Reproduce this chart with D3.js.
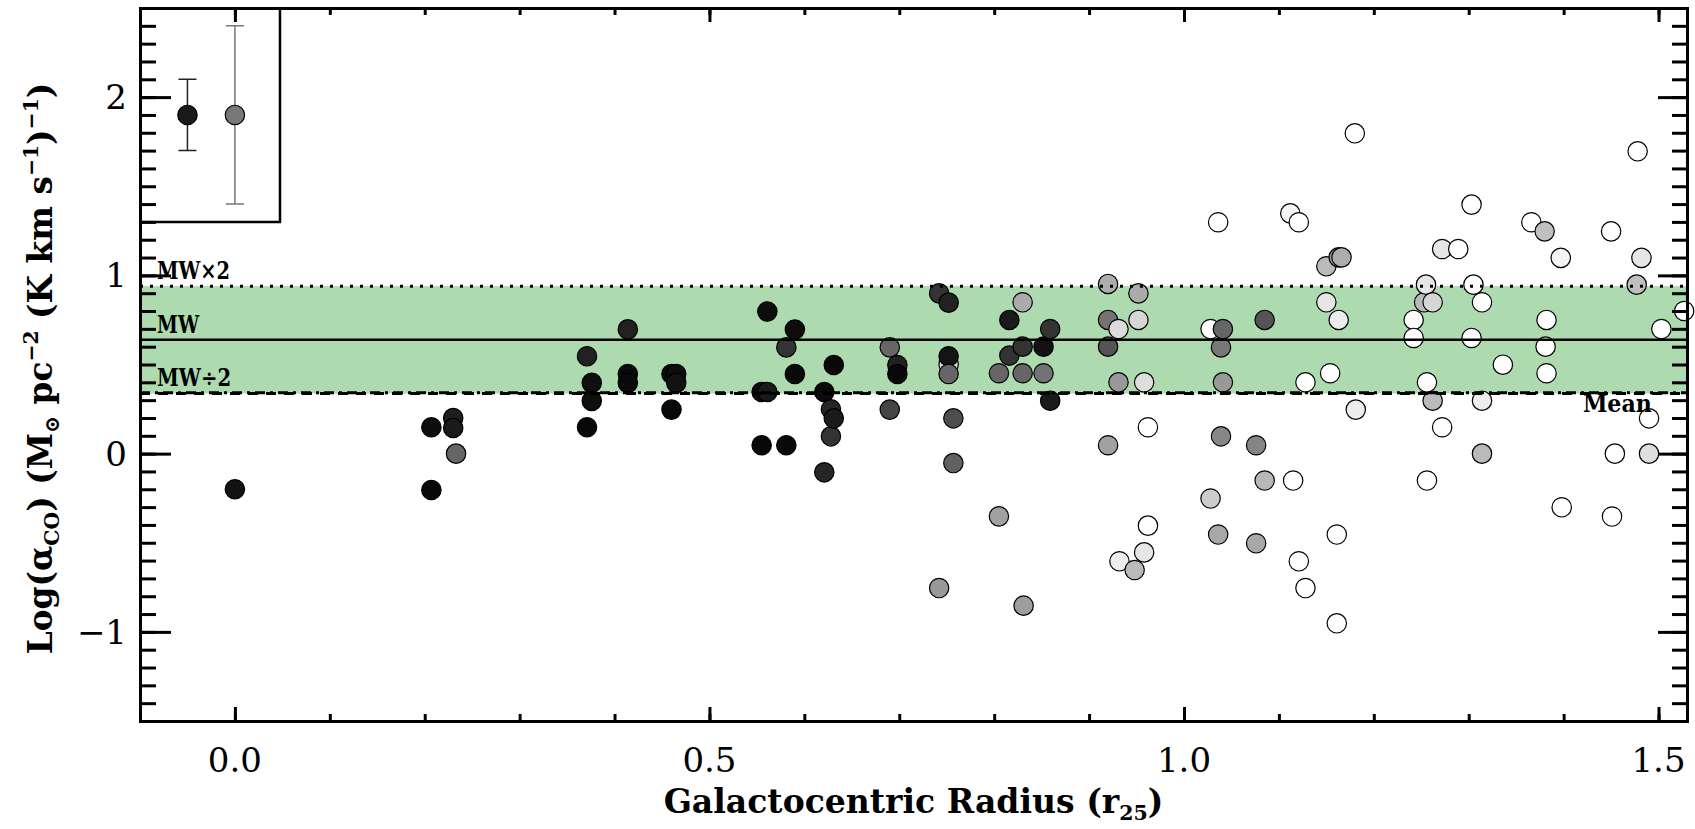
<!DOCTYPE html>
<html>
<head>
<meta charset="utf-8">
<script src="https://cdn.jsdelivr.net/npm/d3@7"></script>
<style>
  body { margin: 0; background: #fff; }
  svg { display: block; }
  .axis path, .axis line { stroke: #000; stroke-width: 3; }
  .axis path { stroke-linecap: square; }
  .tick-label { font-family: 'DejaVu Serif', serif; font-size: 34px; fill: #000; }
  .title { font-family: 'DejaVu Serif', serif; font-weight: bold; fill: #000; }
</style>
</head>
<body>
<div id="chart"></div>
<script>
// galactocentric radius (r25) of each region
const radius = [
  0.000, 0.207, 0.207, 0.230, 0.230, 0.233, 0.371, 0.376, 0.376, 0.371,
  0.414, 0.414, 0.414, 0.460, 0.465, 0.465, 0.460, 0.555, 0.555, 0.561,
  0.561, 0.581, 0.581, 0.590, 0.590, 0.621, 0.621, 0.628, 0.628, 0.631,
  0.631, 0.690, 0.690, 0.698, 0.698, 0.742, 0.742, 0.752, 0.752, 0.752,
  0.752, 0.757, 0.757, 0.805, 0.805, 0.816, 0.816, 0.830, 0.830, 0.830,
  0.831, 0.852, 0.852, 0.859, 0.859, 0.920, 0.920, 0.920, 0.920, 0.931,
  0.931, 0.932, 0.948, 0.952, 0.952, 0.958, 0.958, 0.962, 0.962, 1.028,
  1.028, 1.036, 1.036, 1.039, 1.039, 1.041, 1.041, 1.076, 1.076, 1.085,
  1.085, 1.112, 1.115, 1.121, 1.121, 1.128, 1.128, 1.150, 1.150, 1.154,
  1.161, 1.161, 1.163, 1.166, 1.163, 1.180, 1.181, 1.242, 1.242, 1.253,
  1.255, 1.256, 1.256, 1.262, 1.262, 1.272, 1.272, 1.289, 1.303, 1.303,
  1.305, 1.314, 1.314, 1.314, 1.336, 1.366, 1.380, 1.381, 1.382, 1.382,
  1.397, 1.398, 1.450, 1.451, 1.454, 1.477, 1.478, 1.482, 1.490, 1.490,
  1.503, 1.527
]

// log(alpha_CO)
const logAlpha = [
  -0.200, 0.148, -0.204, 0.200, 0.144, 0.000, 0.546, 0.397, 0.296, 0.148,
  0.697, 0.447, 0.397, 0.447, 0.447, 0.397, 0.247, 0.346, 0.047, 0.797,
  0.346, 0.596, 0.047, 0.696, 0.447, 0.346, -0.105, 0.249, 0.097, 0.497,
  0.198, 0.596, 0.247, 0.497, 0.447, 0.899, -0.754, 0.847, 0.500, 0.546,
  0.447, 0.198, -0.053, 0.451, -0.352, 0.750, 0.550, 0.849, 0.600, 0.451,
  -0.853, 0.600, 0.451, 0.699, 0.297, 0.952, 0.750, 0.600, 0.047, 0.699,
  0.400, -0.604, -0.653, 0.899, 0.750, 0.400, -0.554, 0.148, -0.404, 0.699,
  -0.252, 1.298, -0.454, 0.596, 0.097, 0.699, 0.400, 0.047, -0.503, 0.750,
  -0.151, 1.348, -0.151, 1.298, -0.604, 0.400, -0.754, 1.051, 0.849, 0.451,
  -0.454, -0.952, 1.101, 1.101, 0.750, 1.797, 0.247, 0.750, 0.649, 0.849,
  0.948, 0.400, -0.151, 0.849, 0.297, 1.148, 0.148, 1.148, 1.397, 0.649,
  0.948, 0.849, 0.297, 0.000, 0.499, 1.298, 1.247, 0.600, 0.750, 0.451,
  1.098, -0.301, 1.247, -0.353, 0.000, 0.948, 1.696, 1.098, 0.198, 0.000,
  0.699, 0.800
]

// symbol grey level (0 = black, 1 = white)
const greyLevel = [
  0.07, 0.05, 0.03, 0.12, 0.10, 0.40, 0.13, 0.06, 0.06, 0.03,
  0.13, 0.04, 0.04, 0.04, 0.05, 0.07, 0.03, 0.05, 0.03, 0.05,
  0.10, 0.20, 0.04, 0.05, 0.04, 0.04, 0.15, 0.15, 0.20, 0.03,
  0.10, 0.40, 0.27, 0.13, 0.03, 0.20, 0.60, 0.13, 0.85, 0.08,
  0.40, 0.30, 0.38, 0.40, 0.63, 0.10, 0.20, 0.67, 0.20, 0.40,
  0.62, 0.07, 0.45, 0.20, 0.10, 0.68, 0.45, 0.33, 0.63, 0.86,
  0.60, 0.93, 0.73, 0.67, 0.84, 0.87, 0.90, 1.00, 1.00, 1.00,
  0.80, 1.00, 0.66, 0.47, 0.53, 0.40, 0.60, 0.52, 0.66, 0.33,
  0.72, 0.96, 1.00, 1.00, 1.00, 1.00, 1.00, 0.73, 0.90, 1.00,
  1.00, 1.00, 0.60, 0.68, 0.93, 1.00, 0.93, 1.00, 1.00, 0.73,
  0.90, 1.00, 1.00, 0.84, 0.73, 0.90, 1.00, 1.00, 1.00, 1.00,
  1.00, 1.00, 0.93, 0.73, 1.00, 1.00, 0.75, 1.00, 1.00, 1.00,
  0.96, 1.00, 1.00, 1.00, 1.00, 0.75, 1.00, 0.90, 1.00, 0.87,
  1.00, 1.00
]

// Milky Way reference values
const refNames = ['MW\u00d72', 'MW', 'MW\u00f72']
const refValues = [0.9395, 0.6385, 0.3375]
const meanValue = 0.342

// typical error bars shown in the corner box
const errX = [-0.05, 0.0]
const errY = [1.9, 1.9]
const errSize = [0.2, 0.5]
const errGrey = [0.1, 0.47]

const xTicks = [0, 0.5, 1.0, 1.5]
const xTickLabels = ['0.0', '0.5', '1.0', '1.5']
const yTicks = [-1, 0, 1, 2]
const yTickLabels = ['\u22121', '0', '1', '2']

const W = 1695
const H = 829
const margin = { t: 8, r: 8, b: 108, l: 140 }
const innerWidth = W - margin.l - margin.r
const innerHeight = H - margin.t - margin.b

const scaleX = d3.scaleLinear().domain([-0.1, 1.53]).range([0, innerWidth])
const scaleY = d3.scaleLinear().domain([-1.5, 2.5]).range([innerHeight, 0])
const scaleGrey = d3.scaleLinear().domain([0, 1]).range(['#000', '#fff'])

const svg = d3.select('#chart')
  .append('svg')
  .attr('width', W)
  .attr('height', H)

const plot = svg.append('g')
  .attr('class', 'plot')
  .attr('transform', `translate(${margin.l}, ${margin.t})`)

// green band between MW/2 and MWx2
plot.append('rect')
  .attr('x', 0)
  .attr('width', innerWidth)
  .attr('y', scaleY(refValues[0]))
  .attr('height', scaleY(refValues[2]) - scaleY(refValues[0]))
  .attr('fill', '#addbaf')

// points
const points = radius.map((r, i) => ({ r: r, a: logAlpha[i], g: greyLevel[i] }))

plot.append('g')
  .selectAll('circle')
  .data(points)
  .enter()
  .append('circle')
  .attr('cx', d => scaleX(d.r))
  .attr('cy', d => scaleY(d.a))
  .attr('r', 9.7)
  .attr('fill', d => scaleGrey(d.g))
  .attr('stroke', '#000')
  .attr('stroke-width', 1.2)

// reference lines
const dashes = ['3,7', null, '10,8']
plot.append('g')
  .selectAll('line')
  .data(refValues)
  .enter()
  .append('line')
  .attr('x1', 0)
  .attr('x2', innerWidth)
  .attr('y1', d => scaleY(d))
  .attr('y2', d => scaleY(d))
  .attr('stroke', '#000')
  .attr('stroke-width', (d, i) => i === 1 ? 2.5 : 3)
  .attr('stroke-dasharray', (d, i) => dashes[i])

plot.append('line')
  .attr('x1', 0)
  .attr('x2', innerWidth)
  .attr('y1', scaleY(meanValue))
  .attr('y2', scaleY(meanValue))
  .attr('stroke', '#000')
  .attr('stroke-width', 3)
  .attr('stroke-dasharray', '10,5,3,5')

plot.append('g')
  .selectAll('text')
  .data(refValues)
  .enter()
  .append('text')
  .attr('class', 'title')
  .attr('x', scaleX(-0.082))
  .attr('y', d => scaleY(d) - 7)
  .attr('font-size', 25)
  .attr('textLength', (d, i) => [73, 42, 74][i])
  .attr('lengthAdjust', 'spacingAndGlyphs')
  .text((d, i) => refNames[i])

plot.append('text')
  .attr('class', 'title')
  .attr('x', scaleX(1.493))
  .attr('y', scaleY(meanValue) + 19)
  .attr('text-anchor', 'end')
  .attr('font-size', 25)
  .attr('textLength', 69)
  .attr('lengthAdjust', 'spacingAndGlyphs')
  .text('Mean')

// corner box with typical errors
plot.append('path')
  .attr('d', `M${scaleX(-0.1)},${scaleY(1.3)}H${scaleX(0.0475)}V${scaleY(2.5)}`)
  .attr('fill', 'none')
  .attr('stroke', '#000')
  .attr('stroke-width', 2.5)

const errG = plot.append('g')
errX.forEach((ex, i) => {
  const cx = scaleX(ex)
  const top = scaleY(errY[i] + errSize[i])
  const bot = scaleY(errY[i] - errSize[i])
  const col = i === 0 ? '#222' : '#777'
  errG.append('path')
    .attr('d', `M${cx},${top}V${bot}M${cx - 9},${top}H${cx + 9}M${cx - 9},${bot}H${cx + 9}`)
    .attr('fill', 'none')
    .attr('stroke', col)
    .attr('stroke-width', 1.5)
  errG.append('circle')
    .attr('cx', cx)
    .attr('cy', scaleY(errY[i]))
    .attr('r', 9.7)
    .attr('fill', scaleGrey(errGrey[i]))
    .attr('stroke', '#000')
    .attr('stroke-width', 1.2)
})

// axes: ticks from d3 axes, labels placed with the same scales
const xMinor = d3.range(-1, 16).map(d => d / 10)
const yMinor = d3.range(-15, 26).map(d => d / 10)

function noLabels(g) {
  g.selectAll('text').remove()
}

const axes = [
  [d3.axisBottom(scaleX).tickValues(xMinor).tickSize(-7), `translate(0, ${innerHeight})`],
  [d3.axisBottom(scaleX).tickValues(xTicks).tickSize(-14), `translate(0, ${innerHeight})`],
  [d3.axisTop(scaleX).tickValues(xMinor).tickSize(-7), null],
  [d3.axisTop(scaleX).tickValues(xTicks).tickSize(-14), null],
  [d3.axisLeft(scaleY).tickValues(yMinor).tickSize(-16), null],
  [d3.axisLeft(scaleY).tickValues(yTicks).tickSize(-31), null],
  [d3.axisRight(scaleY).tickValues(yMinor).tickSize(-15), `translate(${innerWidth}, 0)`],
  [d3.axisRight(scaleY).tickValues(yTicks).tickSize(-29), `translate(${innerWidth}, 0)`]
]
axes.forEach(([axis, tr]) => {
  plot.append('g')
    .attr('class', 'axis')
    .attr('transform', tr)
    .call(axis.tickSizeOuter(0))
    .call(noLabels)
})

plot.append('g')
  .selectAll('text')
  .data(xTicks)
  .enter()
  .append('text')
  .attr('class', 'tick-label')
  .attr('x', d => scaleX(d))
  .attr('y', innerHeight + 51)
  .attr('text-anchor', 'middle')
  .text((d, i) => xTickLabels[i])

plot.append('g')
  .selectAll('text')
  .data(yTicks)
  .enter()
  .append('text')
  .attr('class', 'tick-label')
  .attr('x', -13)
  .attr('y', d => scaleY(d) + 12)
  .attr('text-anchor', 'end')
  .text((d, i) => yTickLabels[i])

// axis titles
const xTitle = svg.append('text')
  .attr('class', 'title')
  .attr('x', margin.l + innerWidth / 2)
  .attr('y', 813)
  .attr('text-anchor', 'middle')
  .attr('font-size', 34)
richText(xTitle, [
  { t: 'Galactocentric Radius (r' },
  { t: '25', s: 'sub' },
  { t: ')' }
])
fitWidth(xTitle, 500)

const yTitle = svg.append('text')
  .attr('class', 'title')
  .attr('transform', `translate(52, ${margin.t + innerHeight / 2 + 4}) rotate(-90)`)
  .attr('text-anchor', 'middle')
  .attr('font-size', 34)
richText(yTitle, [
  { t: 'Log(\u03b1' },
  { t: 'CO', s: 'sub' },
  { t: ')  (M' },
  { t: '\u2299', s: 'sub' },
  { t: ' pc' },
  { t: '\u22122', s: 'sup' },
  { t: ' (K km s' },
  { t: '\u22121', s: 'sup' },
  { t: ')' },
  { t: '\u22121', s: 'sup' },
  { t: ')' }
])
fitWidth(yTitle, 572)

function richText(text, parts) {
  let shift = 0
  parts.forEach(p => {
    const ts = text.append('tspan').text(p.t)
    const target = p.s === 'sup' ? -0.42 : p.s === 'sub' ? 0.2 : 0
    const ratio = p.s ? 0.62 : 1
    if (p.s) ts.style('font-size', '0.62em')
    if (target !== shift) ts.attr('dy', ((target - shift) / ratio) + 'em')
    shift = target
  })
}

function fitWidth(text, width) {
  const w = text.node().getBBox().width
  const fs = parseFloat(text.attr('font-size'))
  text.attr('font-size', fs * width / w)
}
</script>
</body>
</html>
